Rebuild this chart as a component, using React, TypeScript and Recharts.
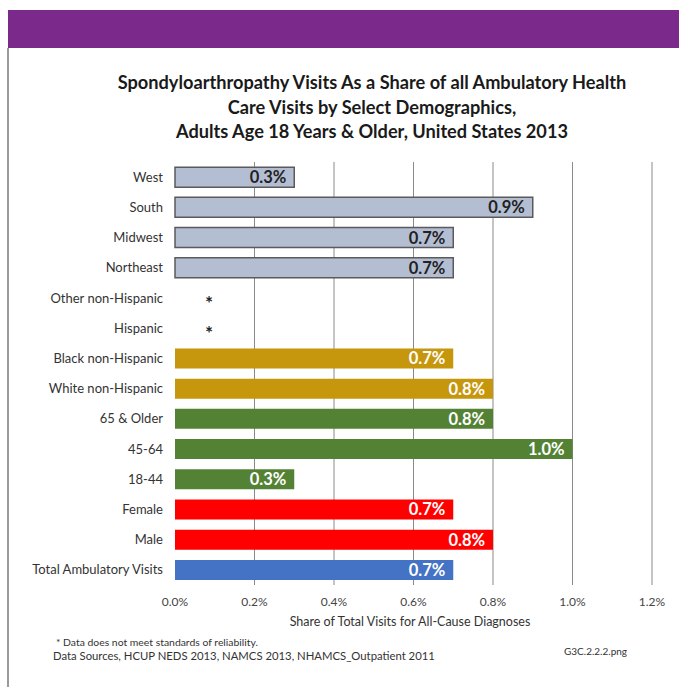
import { BarChart, Bar, XAxis, YAxis, CartesianGrid, Cell, LabelList } from "recharts";

const categories = [
  "West",
  "South",
  "Midwest",
  "Northeast",
  "Other non-Hispanic",
  "Hispanic",
  "Black non-Hispanic",
  "White non-Hispanic",
  "65 & Older",
  "45-64",
  "18-44",
  "Female",
  "Male",
  "Total Ambulatory Visits",
];
// percent share; null = does not meet reliability standards (*)
const shares: (number | null)[] = [0.3, 0.9, 0.7, 0.7, null, null, 0.7, 0.8, 0.8, 1.0, 0.3, 0.7, 0.8, 0.7];
const groups = ["region", "region", "region", "region", "race", "race", "race", "race", "age", "age", "age", "sex", "sex", "total"];
const xTicks = [0, 0.2, 0.4, 0.6, 0.8, 1.0, 1.2];

const groupColors: Record<string, string> = {
  region: "#b4bed3",
  race: "#c6960d",
  age: "#548235",
  sex: "#ff0000",
  total: "#4472c4",
};

const chartData = categories.map((name, i) => ({
  name,
  value: shares[i] ?? 0,
  star: shares[i] == null,
  group: groups[i],
}));

const FONT = "Lato, 'Open Sans', sans-serif";

const renderValue = (props: any) => {
  const { x, y, width, height, value } = props;
  const row = chartData.find((d) => d.name === value);
  if (!row || row.star) return null;
  return (
    <text
      x={Number(x) + Number(width) - 8}
      y={Number(y) + Number(height) / 2}
      dy="0.36em"
      textAnchor="end"
      fontSize={16.5}
      fontWeight="bold"
      fill={row.group === "region" ? "#222" : "#fff"}
      fontFamily={FONT}
    >
      {row.value.toFixed(1)}%
    </text>
  );
};

const CategoryTick = (props: any) => {
  const { x, y, payload } = props;
  const row = chartData.find((d) => d.name === payload.value);
  return (
    <g>
      <text x={x} y={y} dy="0.35em" textAnchor="end" fontSize={13} fill="#333" fontFamily={FONT}>
        {payload.value}
      </text>
      {row?.star && (
        <text x={x + 46} y={y} dy="0.62em" textAnchor="middle" fontSize={19} fontWeight="bold" fill="#222" fontFamily={FONT}>
          *
        </text>
      )}
    </g>
  );
};

export default function App() {
  return (
    <div style={{ position: "absolute", left: 0, top: 0, width: 679, height: 687, background: "#fff", fontFamily: FONT, overflow: "hidden" }}>
      <div style={{ position: "absolute", left: 8, top: 10, width: 671, height: 38, background: "#7b2a8c" }} />
      <div style={{ position: "absolute", left: 7, top: 48, width: 2, height: 639, background: "#9a9a9a" }} />
      <div
        style={{
          position: "absolute",
          left: 72,
          top: 70,
          width: 600,
          textAlign: "center",
          fontWeight: "bold",
          fontSize: 18.2,
          lineHeight: "24.5px",
          color: "#1a1a1a",
        }}
      >
        Spondyloarthropathy Visits As a Share of all Ambulatory Health
        <br />
        Care Visits by Select Demographics,
        <br />
        Adults Age 18 Years &amp; Older, United States 2013
      </div>
      <div style={{ position: "absolute", left: 0, top: 0 }}>
        <BarChart
          width={679}
          height={640}
          data={chartData}
          layout="vertical"
          margin={{ top: 162, right: 27, left: 0, bottom: 25 }}
          barCategoryGap="17%"
        >
          <CartesianGrid horizontal={false} verticalValues={xTicks.slice(1)} stroke="#8a8a8a" />
          <XAxis
            type="number"
            domain={[0, 1.2]}
            ticks={xTicks}
            tickFormatter={(v: number) => `${v.toFixed(1)}%`}
            axisLine={false}
            tickLine={false}
            tickSize={0}
            tickMargin={12}
            height={30}
            tick={{ fontSize: 12, fill: "#444", fontFamily: FONT }}
          />
          <YAxis
            type="category"
            dataKey="name"
            width={175}
            axisLine={false}
            tickLine={false}
            tickSize={0}
            tickMargin={12}
            interval={0}
            tick={<CategoryTick />}
          />
          <Bar dataKey="value" isAnimationActive={false}>
            {chartData.map((d) => (
              <Cell
                key={d.name}
                fill={groupColors[d.group]}
                stroke={d.group === "region" ? "#5a5a5a" : "none"}
                strokeWidth={d.group === "region" ? 1.5 : 0}
              />
            ))}
            <LabelList dataKey="name" content={renderValue} />
          </Bar>
        </BarChart>
      </div>
      <div style={{ position: "absolute", left: 210, width: 400, top: 614, textAlign: "center", fontSize: 12.5, color: "#333" }}>
        Share of Total Visits for All-Cause Diagnoses
      </div>
      <div style={{ position: "absolute", left: 56, top: 636, fontSize: 10.4, color: "#333" }}>
        * Data does not meet standards of reliability.
      </div>
      <div style={{ position: "absolute", left: 53, top: 649, fontSize: 11.3, color: "#333" }}>
        Data Sources, HCUP NEDS 2013, NAMCS 2013, NHAMCS_Outpatient 2011
      </div>
      <div style={{ position: "absolute", left: 564, top: 645, fontSize: 10, color: "#333" }}>G3C.2.2.2.png</div>
    </div>
  );
}
